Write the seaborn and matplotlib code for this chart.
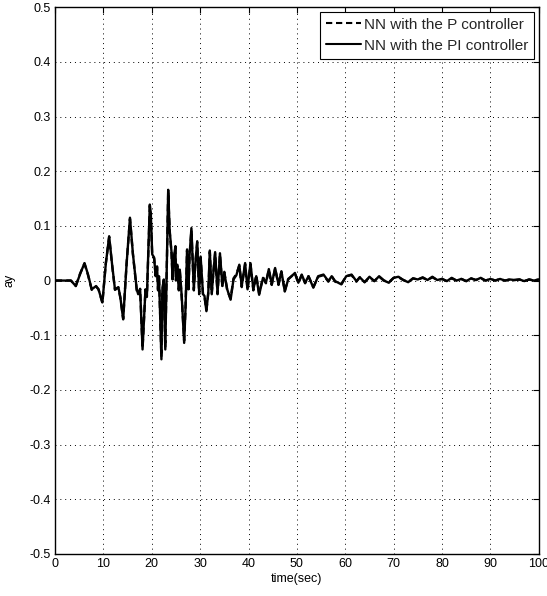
import matplotlib
matplotlib.use("Agg")
import matplotlib.pyplot as plt
import seaborn as sns
import pandas as pd

time_s = [0, 3.3, 4.3, 5.2, 6.1, 6.8, 7.6, 8.5, 9.0, 9.8, 10.5, 11.2, 11.8, 12.4, 13.1, 13.5, 14.1,
          14.8, 15.5, 16.1, 16.9, 17.2, 17.6, 18.1, 18.4, 18.7, 19.0, 19.6, 19.8, 20.1, 20.5, 20.8,
          21.1, 21.3, 21.5, 22.0, 22.2, 22.5, 22.8, 23.4, 23.7, 24.1, 24.3, 24.6, 24.9, 25.0, 25.3,
          25.6, 25.8, 26.2, 26.7, 27.0, 27.3, 27.6, 27.8, 28.2, 28.7, 29.0, 29.4, 29.8, 30.1, 30.6,
          30.9, 31.3, 31.7, 32.0, 32.4, 32.8, 33.1, 33.6, 34.1, 34.6, 35.0, 35.6, 36.3, 36.9, 37.5,
          38.1, 38.6, 39.3, 39.8, 40.4, 41.0, 41.6, 42.2, 43.0, 43.6, 44.2, 44.8, 45.5, 46.2, 46.8,
          47.5, 48.2, 48.9, 49.6, 50.3, 51.0, 51.7, 52.4, 53.4, 54.4, 55.5, 56.5, 57.2, 57.9, 59.2,
          60.2, 61.3, 62.3, 63.0, 64.0, 65.0, 66.0, 67.0, 68.0, 69.0, 70.0, 71.0, 72.0, 73.0, 74.0,
          75.0, 76.0, 77.0, 78.0, 79.0, 80.0, 81.0, 82.0, 83.0, 84.0, 85.0, 86.0, 87.0, 88.0, 89.0,
          90.0, 91.0, 92.0, 93.0, 94.0, 95.0, 96.0, 97.0, 98.0, 99.0, 100.0]

ay_pi = [0, 0, -0.010, 0.012, 0.032, 0.012, -0.016, -0.010, -0.016, -0.040, 0.030, 0.081, 0.030,
         -0.016, -0.012, -0.030, -0.071, 0.030, 0.115, 0.050, -0.016, -0.025, -0.016, -0.126, -0.070,
         -0.016, -0.028, 0.139, 0.124, 0.048, 0.042, 0.008, 0.026, -0.016, 0.008, -0.144, -0.016,
         0.002, -0.126, 0.166, 0.093, 0.051, 0.002, 0.044, 0.063, 0.000, 0.029, -0.016, 0.020,
         -0.029, -0.114, -0.047, 0.057, -0.016, 0.044, 0.096, -0.016, 0.030, 0.072, -0.023, 0.044,
         -0.025, -0.028, -0.056, -0.020, 0.055, -0.023, 0.020, 0.052, -0.023, 0.050, -0.010, 0.014,
         -0.016, -0.035, 0.002, 0.010, 0.029, -0.010, 0.032, -0.016, 0.032, -0.016, 0.008, -0.026,
         0.005, -0.004, 0.021, -0.007, 0.023, -0.007, 0.017, -0.020, 0.002, 0.008, 0.014, -0.004,
         0.011, -0.004, 0.008, -0.013, 0.008, 0.011, -0.001, 0.008, -0.001, -0.007, 0.008, 0.011,
         -0.001, 0.006, -0.003, 0.007, -0.001, 0.008, 0.000, -0.004, 0.005, 0.007, 0.001, -0.003,
         0.004, 0.002, 0.006, 0.001, 0.007, 0.001, 0.003, -0.001, 0.005, 0.000, 0.003, -0.001,
         0.004, 0.001, 0.005, 0.000, 0.003, 0.000, 0.003, 0.000, 0.002, 0.001, 0.002, -0.001,
         0.002, 0.000, 0.002]

ay_p = [0, 0, -0.010, 0.013, 0.031, 0.011, -0.017, -0.011, -0.016, -0.041, 0.031, 0.080, 0.029,
        -0.017, -0.013, -0.031, -0.070, 0.031, 0.113, 0.049, -0.018, -0.026, -0.015, -0.124, -0.069,
        -0.018, -0.030, 0.136, 0.120, 0.046, 0.040, 0.010, 0.024, -0.018, 0.010, -0.140, -0.018,
        0.004, -0.122, 0.162, 0.090, 0.049, 0.004, 0.042, 0.060, 0.002, 0.027, -0.018, 0.018,
        -0.031, -0.110, -0.045, 0.055, -0.018, 0.042, 0.092, -0.018, 0.028, 0.070, -0.025, 0.042,
        -0.027, -0.030, -0.054, -0.022, 0.053, -0.025, 0.022, 0.050, -0.025, 0.048, -0.012, 0.016,
        -0.018, -0.033, 0.004, 0.012, 0.027, -0.012, 0.030, -0.018, 0.030, -0.018, 0.010, -0.024,
        0.006, -0.005, 0.020, -0.008, 0.022, -0.008, 0.016, -0.019, 0.003, 0.008, 0.013, -0.005,
        0.010, -0.005, 0.008, -0.012, 0.007, 0.010, -0.002, 0.008, -0.002, -0.006, 0.008, 0.010,
        -0.002, 0.006, -0.003, 0.006, -0.001, 0.007, 0.000, -0.003, 0.005, 0.006, 0.001, -0.003,
        0.004, 0.002, 0.005, 0.001, 0.006, 0.001, 0.003, -0.001, 0.004, 0.000, 0.003, -0.001,
        0.004, 0.001, 0.004, 0.000, 0.003, 0.000, 0.003, 0.000, 0.002, 0.001, 0.002, -0.001,
        0.002, 0.000, 0.002]

x_ticks = [0, 10, 20, 30, 40, 50, 60, 70, 80, 90, 100]
y_ticks = [-0.5, -0.4, -0.3, -0.2, -0.1, 0, 0.1, 0.2, 0.3, 0.4, 0.5]
y_tick_labels = ["-0.5", "-0.4", "-0.3", "-0.2", "-0.1", "0", "0.1", "0.2", "0.3", "0.4", "0.5"]
series_names = ["NN with the P controller", "NN with the PI controller"]

sns.set_theme(style="white")
plt.rcParams["font.family"] = ["Liberation Sans Narrow", "Liberation Sans", "DejaVu Sans"]

df = pd.concat([
    pd.DataFrame({"t": time_s, "ay": ay_p, "series": series_names[0]}),
    pd.DataFrame({"t": time_s, "ay": ay_pi, "series": series_names[1]}),
])

fig = plt.figure(figsize=(5.47, 5.96), dpi=100)
ax = fig.add_axes([0.1005, 0.0705, 0.8845, 0.9175])

sns.lineplot(data=df, x="t", y="ay", hue="series", style="series",
             palette=["black", "black"], dashes=[(3, 1.8), ""], linewidth=1.7,
             ax=ax, legend=True)

ax.set_xlim(0, 100)
ax.set_ylim(-0.5, 0.5)
ax.set_xticks(x_ticks)
ax.set_xticklabels([str(v) for v in x_ticks])
ax.set_yticks(y_ticks)
ax.set_yticklabels(y_tick_labels)
ax.grid(True, color="black", linestyle=(0, (1, 4)), linewidth=0.7)
ax.tick_params(direction="in", length=4, width=0.8, top=True, right=True,
               labelsize=9, colors="black", pad=3)
for s in ax.spines.values():
    s.set_color("black")
    s.set_linewidth(1.0)
    s.set_visible(True)

ax.set_xlabel("time(sec)", fontsize=9, color="black", labelpad=2)
ax.set_ylabel("ay", fontsize=9, color="black", labelpad=10)

leg = ax.legend(loc="upper right", fontsize=11, frameon=True, fancybox=False,
                edgecolor="black", framealpha=1, handlelength=2.3, handletextpad=0.15,
                borderpad=0.4, labelspacing=0.45, borderaxespad=0.3)
leg.get_frame().set_linewidth(0.8)
for line in leg.get_lines():
    line.set_linewidth(1.5)

fig.savefig("out.png", dpi=100)
